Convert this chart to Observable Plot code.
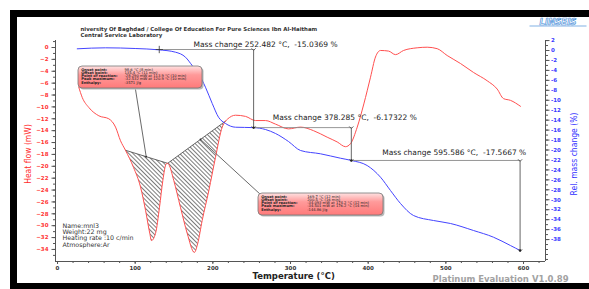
<!DOCTYPE html>
<html><head><meta charset="utf-8">
<script src="https://cdn.jsdelivr.net/npm/d3@7"></script>
<script src="https://cdn.jsdelivr.net/npm/@observablehq/plot@0.6"></script>
<style>
html,body{margin:0;padding:0;background:#fff;overflow:hidden}
#wrap{position:relative;width:589px;height:289px}
#frame{position:absolute;left:10px;top:10px;width:579px;height:279px;box-sizing:border-box;border-top:7px solid #000;border-left:7px solid #000;border-bottom:6px solid #000}
#wrap svg{position:absolute;left:0;top:0}
</style></head><body><div id="wrap"><div id="frame"></div></div>
<script>
// ---- DSC (heat flow) series ----
const heatT = [27.4, 31.8, 40.3, 53.2, 66.0, 74.7, 81.1, 87.5, 97.9, 106.9, 113.3, 118.8, 120.9, 126.2, 131.3, 135.6, 139.9, 141.8, 143.3, 149.7, 158.3, 167.0, 176.2, 180.5, 186.3, 194.8, 203.4, 212.1, 216.3, 218.5, 229.2, 242.1, 254.9, 267.8, 280.7, 297.4, 312.9, 329.6, 347.2, 360.1, 370.8, 377.2, 385.9, 394.4, 403.0, 409.4, 415.9, 426.2, 435.2, 445.5, 463.1, 476.0, 488.9, 501.7, 518.9, 535.6, 553.2, 566.1, 574.2, 583.2, 596.1];
const heatFlow = [-6.7, -8.4, -10.1, -11.5, -12.0, -13.4, -15.7, -17.3, -20.2, -23.5, -27.4, -31.3, -32.5, -31.3, -26.9, -22.4, -19.6, -19.5, -19.7, -22.4, -26.9, -31.3, -34.5, -33.0, -29.1, -24.1, -18.5, -13.4, -12.4, -12.1, -11.4, -11.6, -12.3, -12.3, -12.9, -13.7, -13.4, -14.0, -15.1, -15.9, -16.7, -16.2, -13.4, -9.5, -5.0, -1.6, -0.5, -0.6, -1.2, -0.5, -0.05, 0.05, -0.2, -1.35, -2.7, -4.2, -5.6, -7.0, -8.6, -8.9, -9.9];
// ---- TG (relative mass change) series ----
const massT = [25.4, 61.8, 100, 130.0, 151.9, 164.8, 173.4, 181.5, 190.5, 199.2, 207.3, 216.3, 229.2, 252.5, 267.8, 280.7, 297.4, 312.9, 338.6, 364.3, 378.3, 398.7, 415.9, 428.7, 441.6, 458.4, 484.1, 506.0, 535.6, 561.4, 583.2, 595.6];
const massPct = [0.34, 0.54, 0.4, 0.14, -0.34, -1.35, -3.02, -4.62, -7.38, -10.65, -13.41, -14.67, -15.42, -15.5, -15.88, -16.68, -18.29, -20.10, -20.76, -21.65, -22.1, -23.12, -25.47, -28.14, -30.75, -33.17, -34.17, -34.77, -36.18, -37.53, -39.2, -40.2];
// ---- ticks ----
const leftTicks = d3.range(0, -35, -2);
const rightTicks = d3.range(2, -39, -2);
const xTicks = d3.range(0, 601, 100);
// ---- mass change annotations ----
const mcFrom = [131, 252.482, 378.285];
const mcTemp = [252.482, 378.285, 595.586];
const mcStart = [0.2, -15.5, -22.1];
const mcEnd = [-15.5, -22.1, -40.2];
const mcValue = ["-15.0369", "-6.17322", "-17.5667"];
// ---- peak integration ----
const peakBaseT = [87.5, 141.8, 216.3];
const rowLabels = ["Onset point:", "Offset point:", "Point of reaction:", "Peak maximum:", "Enthalpy:"];
const peak1Values = ["98.6 °C (8 min)", "135.4 °C (11 min)", "-28.290 mW at 113.9 °C (10 min)", "-32.532 mW at 120.9 °C (10 min)", "-3571 J/g"];
const peak2Values = ["169.7 °C (12 min)", "200.5 °C (16 min)", "-34.093 mW at 174.2 °C (12 min)", "-34.501 mW at 176.2 °C (14 min)", "-144.86 J/g"];
const infoLines = ["Name:mnl3", "Weight:22 mg", "Heating rate :10 c/min", "Atmosphere:Ar"];
const titleLines = ["niversity Of Baghdad / College Of Education For Pure Sciences Ibn Al-Haitham", "Central Service Laboratory"];

// ---- build tables ----
const heat = heatT.map((t, i) => ({t, hf: heatFlow[i]}));
const toHF = m => -0.504 + 0.8377 * m;      // right axis (mass %) onto the left scale
const fromHF = h => (h + 0.504) / 0.8377;
const mass = massT.map((t, i) => ({t, y: toHF(massPct[i])}));
const mc = mcTemp.map((t, i) => ({from: mcFrom[i], t, y0: toHF(mcStart[i]), y1: toHF(mcEnd[i]),
  label: `Mass change ${t} °C,\u00a0 ${mcValue[i]} %`}));
const hfAt = t => heat.find(d => d.t === t).hf;
const base = peakBaseT.map(t => ({t, hf: hfAt(t)}));
const baseAt = t => { const a = t <= base[1].t ? base[0] : base[1], b = t <= base[1].t ? base[1] : base[2];
  return a.hf + (b.hf - a.hf) * (t - a.t) / (b.t - a.t); };

// ---- frame geometry (pixel helpers for annotations) ----
const X0 = -2.6, X1 = 628.3, Y0 = -36.03, Y1 = 1.18;
const kx = 490 / (X1 - X0), ky = 221 / (Y1 - Y0);
const ix = px => X0 + (px - 55) / kx;
const iy = py => Y1 - (py - 40) / ky;

const red = "#ff4f4f", blue = "#4444ff", axis = "#555";
const F = "'DejaVu Sans', Verdana, sans-serif";
const N = "'Liberation Sans Narrow', 'DejaVu Sans Condensed', sans-serif";

function box(x1, y1, x2, y2, labels, values, vx) {
  return [
    Plot.rect([0], {x1: ix(x1), x2: ix(x2), y1: iy(y1), y2: iy(y2), rx: 4, fill: "#9a9a9a", fillOpacity: 0.7, dx: 1.5, dy: 1.5}),
    Plot.rect([0], {x1: ix(x1), x2: ix(x2), y1: iy(y1), y2: iy(y2), rx: 4, fill: "url(#boxgrad)", stroke: "#777", strokeWidth: 0.8}),
    Plot.text(labels, {x: ix(x1 + 2.7), y: (d, i) => iy(y1 + 3.2 + 3.2 * i), text: d => d, textAnchor: "start", fontSize: 3.7, fontWeight: "bold", fill: "#222"}),
    Plot.text(values, {x: ix(vx), y: (d, i) => iy(y1 + 3.2 + 3.2 * i), text: d => d, textAnchor: "start", fontSize: 3.7, fill: "#222"})
  ];
}

const svg = Plot.plot({
  width: 589, height: 289, marginTop: 40, marginBottom: 28, marginLeft: 55, marginRight: 44,
  style: {background: "transparent", fontFamily: F, overflow: "visible"},
  x: {domain: [X0, X1], label: null},
  y: {domain: [Y0, Y1], label: null},
  marks: [
    // axes
    Plot.ruleX([X0], {stroke: axis}),
    Plot.ruleX([X1], {stroke: axis}),
    Plot.ruleY([Y0], {stroke: axis}),
    Plot.axisY(d3.range(1, -36, -1), {anchor: "left", tickSize: 2, tickFormat: () => "", stroke: axis, label: null}),
    Plot.axisY(leftTicks, {anchor: "left", tickSize: 3.5, tickPadding: 3.5, fill: "#ff3434", stroke: axis, fontSize: 5.5, fontWeight: "bold", label: null}),
    Plot.axisY(d3.range(2, -43, -1).map(toHF), {anchor: "right", tickSize: 2, tickFormat: () => "", stroke: axis, label: null}),
    Plot.axisY(rightTicks.map(toHF), {anchor: "right", tickSize: 3.5, tickPadding: 2, tickFormat: d => Math.round(fromHF(d)), fill: "#3a3aff", stroke: axis, fontSize: 5.5, fontWeight: "bold", label: null}),
    Plot.axisX(d3.range(0, 621, 20), {anchor: "bottom", tickSize: 2, tickFormat: () => "", stroke: axis, label: null}),
    Plot.axisX(xTicks, {anchor: "bottom", tickSize: 3, tickPadding: 2, fill: "#333", stroke: axis, fontSize: 5.5, fontWeight: "bold", label: null}),
    // hatched peak areas (curve closed by its straight baseline)
    Plot.line(heat.filter(d => d.t >= peakBaseT[0] && d.t <= peakBaseT[1]), {x: "t", y: "hf", fill: "url(#hatch)", stroke: "none", curve: "monotone-x"}),
    Plot.line(heat.filter(d => d.t >= peakBaseT[1] && d.t <= peakBaseT[2]), {x: "t", y: "hf", fill: "url(#hatch)", stroke: "none", curve: "monotone-x"}),
    Plot.line(base, {x: "t", y: "hf", stroke: "#444", strokeWidth: 0.8}),
    // curves
    Plot.line(heat, {x: "t", y: "hf", stroke: red, strokeWidth: 1, curve: "monotone-x"}),
    Plot.line(mass, {x: "t", y: "y", stroke: blue, strokeWidth: 1, curve: "monotone-x"}),
    // mass change annotations
    Plot.link(mc, {x1: "from", x2: "t", y1: "y0", y2: "y0", stroke: "#8a8a8a", strokeWidth: 0.9}),
    Plot.link(mc, {x1: "t", x2: "t", y1: "y0", y2: "y1", stroke: "#555", strokeWidth: 0.9, markerStart: "arrow", markerEnd: "arrow"}),
    Plot.dot([mc[0]], {x: "from", y: "y0", symbol: "plus", r: 2.5, stroke: "#333", strokeWidth: 0.8}),
    Plot.dot(mc, {x: "t", y: "y1", r: 1.2, fill: "#222"}),
    Plot.text(mc, {x: (d, i) => ix([193, 272.3, 381.7][i]), y: (d, i) => iy([44, 117, 151.7][i]), text: "label", textAnchor: "start", fontSize: 7.5, fill: "#222", ariaLabel: "mc"}),
    // peak boxes and leaders
    Plot.link([0], {x1: ix(135), y1: iy(89), x2: 114.2, y2: baseAt(114.2), stroke: "#444", strokeWidth: 0.8}),
    Plot.link([0], {x1: 184.1, y1: baseAt(184.1), x2: ix(260), y2: iy(194), stroke: "#444", strokeWidth: 0.8}),
    Plot.dot([114.2, 184.1], {x: d => d, y: d => baseAt(d), r: 0.9, fill: "#333"}),
    ...box(78, 66, 202, 88, rowLabels, peak1Values, 124),
    ...box(258, 193, 383, 215, rowLabels, peak2Values, 306.7),
    // sample info
    Plot.text(infoLines, {x: ix(62), y: (d, i) => iy(225.5 + 6.2 * i), text: d => d, textAnchor: "start", fontSize: 6.3, fill: "#333", ariaLabel: "info"}),
    // titles and labels
    Plot.text(titleLines, {x: ix(80), y: (d, i) => iy(29 + 5.6 * i), text: d => d, textAnchor: "start", fontSize: 5.4, fontWeight: "bold", fill: "#333", ariaLabel: "title"}),
    Plot.text(["LINSEIS"], {x: ix(557.5), y: iy(21.5), text: d => d, fontSize: 8.5, fontStyle: "italic", fontWeight: "bold", fill: "#fff", stroke: "#4a90d9", strokeWidth: 0.7, paintOrder: "normal", ariaLabel: "logo"}),
    Plot.link([0], {x1: ix(529), x2: ix(586), y1: iy(25.5), y2: iy(25.5), stroke: "#4a90d9", strokeWidth: 0.7}),
    Plot.text(["Heat flow (mW)"], {x: ix(28), y: iy(153.5), text: d => d, rotate: -90, fontFamily: N, fontSize: 8.5, fill: "#ff2a2a", ariaLabel: "hfl"}),
    Plot.text(["Rel. mass change (%)"], {x: ix(574), y: iy(153.5), text: d => d, rotate: -90, fontFamily: N, fontSize: 8.5, fill: "#3030ff", ariaLabel: "rml"}),
    Plot.text(["Temperature (°C)"], {x: ix(252), y: iy(276), text: d => d, textAnchor: "start", fontSize: 8.5, fontWeight: "bold", fill: "#222", ariaLabel: "temp"}),
    Plot.text(["Platinum Evaluation V1.0.89"], {x: ix(432), y: iy(278.3), text: d => d, textAnchor: "start", fontSize: 8.5, fontWeight: "bold", fill: "#a2a2a2", ariaLabel: "plat"})
  ]
});

// defs: hatch pattern and box gradient
const defs = d3.select(svg).insert("defs", ":first-child");
const pat = defs.append("pattern").attr("id", "hatch").attr("patternUnits", "userSpaceOnUse")
  .attr("width", 3).attr("height", 3).attr("patternTransform", "rotate(-45)");
pat.append("rect").attr("width", 3).attr("height", 3).attr("fill", "#fff");
pat.append("rect").attr("x", 0).attr("width", 0.7).attr("height", 3).attr("fill", "#444");
const g = defs.append("linearGradient").attr("id", "boxgrad").attr("x1", 0).attr("y1", 0).attr("x2", 0).attr("y2", 1);
g.append("stop").attr("offset", "0%").attr("stop-color", "#ffe2e2");
g.append("stop").attr("offset", "40%").attr("stop-color", "#ff9a9a");
g.append("stop").attr("offset", "100%").attr("stop-color", "#ff7a7a");

// fit widths of texts to the reference
const fit = {mc: [160, 161, 161], info: [31, 40, 75.6, 55], title: [259, 88], logo: [55], hfl: [47], rml: [67], temp: [78], plat: [155]};
for (const [k, w] of Object.entries(fit)) {
  d3.select(svg).selectAll(`g[aria-label="${k}"] text`).each(function(d, i) {
    if (w[i]) { this.setAttribute("textLength", w[i]); this.setAttribute("lengthAdjust", "spacingAndGlyphs"); }
  });
}
document.getElementById("wrap").appendChild(svg);
</script></body></html>
